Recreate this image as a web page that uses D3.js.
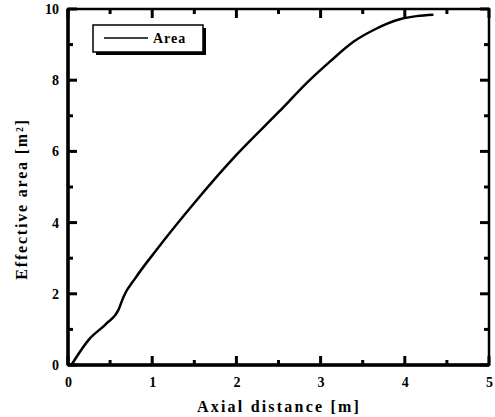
<!DOCTYPE html>
<html>
<head>
<meta charset="utf-8">
<script src="https://cdn.jsdelivr.net/npm/d3@7"></script>
<style>
  body { margin: 0; background: #fff; }
  text { font-family: "Liberation Serif", "DejaVu Serif", serif; font-weight: bold; fill: #000; }
</style>
</head>
<body>
<svg></svg>
<script>
var width = 495,
  height = 417;

// axial distance (m) and effective area (m^2)
var axialDist = [0.04, 0.25, 0.45, 0.6, 0.66, 0.8, 1.05, 1.5, 2.0, 2.5, 2.87, 3.11, 3.39, 3.63, 3.94, 4.14, 4.34];
var effArea = [0, 0.72, 1.15, 1.55, 1.92, 2.44, 3.23, 4.55, 5.9, 7.1, 8.0, 8.52, 9.08, 9.41, 9.71, 9.80, 9.84];
var xTicks = [0, 1, 2, 3, 4, 5];
var xMinor = [0.5, 1.5, 2.5, 3.5, 4.5];
var yTicks = [0, 2, 4, 6, 8, 10];
var yMinor = [1, 3, 5, 7, 9];
var seriesName = "Area";

var margin = { top: 9, right: 6, bottom: 52, left: 68 };

var svg = d3.select("svg")
  .attr("width", width)
  .attr("height", height);

var x = d3.scaleLinear().domain([0, 5]).range([margin.left, width - margin.right]);
var y = d3.scaleLinear().domain([0, 10]).range([height - margin.bottom, margin.top]);

var data = axialDist.map((d, i) => ({ x: d, y: effArea[i] }));

// tick labels from the axes
svg.append("g").attr("transform", "translate(0," + y(0) + ")")
  .call(d3.axisBottom(x).tickValues(xTicks).tickFormat(d3.format("d")).tickSize(0).tickPadding(12))
  .call(g => g.select(".domain").remove());
svg.append("g").attr("transform", "translate(" + x(0) + ",0)")
  .call(d3.axisLeft(y).tickValues(yTicks).tickFormat(d3.format("d")).tickSize(0).tickPadding(9))
  .call(g => g.select(".domain").remove());
svg.selectAll(".tick text")
  .style("font-size", "14px")
  .style("font-family", "Liberation Serif")
  .style("font-weight", "bold");

// frame
svg.append("rect")
  .attr("x", x(0)).attr("y", y(10))
  .attr("width", x(5) - x(0)).attr("height", y(0) - y(10))
  .attr("fill", "none").attr("stroke", "#000").attr("stroke-width", 2.5);
svg.append("line")
  .attr("x1", x(0)).attr("x2", x(0)).attr("y1", y(10)).attr("y2", y(0))
  .attr("stroke", "#000").attr("stroke-width", 3.5);
svg.append("line")
  .attr("x1", x(0)).attr("x2", x(5)).attr("y1", y(0)).attr("y2", y(0))
  .attr("stroke", "#000").attr("stroke-width", 3.5);

// inward tick marks on all four sides
var xt = xTicks.map(v => ({ v: v, len: 9 })).concat(xMinor.map(v => ({ v: v, len: 5 })));
var yt = yTicks.map(v => ({ v: v, len: 9 })).concat(yMinor.map(v => ({ v: v, len: 5 })));

svg.append("g").selectAll("line").data(xt).join("line")
  .attr("x1", d => x(d.v)).attr("x2", d => x(d.v))
  .attr("y1", y(0)).attr("y2", d => y(0) - d.len)
  .attr("stroke", "#000").attr("stroke-width", 3);
svg.append("g").selectAll("line").data(xt).join("line")
  .attr("x1", d => x(d.v)).attr("x2", d => x(d.v))
  .attr("y1", y(10)).attr("y2", d => y(10) + d.len)
  .attr("stroke", "#000").attr("stroke-width", 3);
svg.append("g").selectAll("line").data(yt).join("line")
  .attr("y1", d => y(d.v)).attr("y2", d => y(d.v))
  .attr("x1", x(0)).attr("x2", d => x(0) + d.len)
  .attr("stroke", "#000").attr("stroke-width", 3);
svg.append("g").selectAll("line").data(yt).join("line")
  .attr("y1", d => y(d.v)).attr("y2", d => y(d.v))
  .attr("x1", x(5)).attr("x2", d => x(5) - d.len)
  .attr("stroke", "#000").attr("stroke-width", 3);

// the curve
var line = d3.line()
  .x(d => x(d.x))
  .y(d => y(d.y))
  .curve(d3.curveMonotoneX);

svg.append("path")
  .datum(data)
  .attr("d", line)
  .attr("fill", "none")
  .attr("stroke", "#000")
  .attr("stroke-width", 2.5);

// legend with drop shadow
var lg = svg.append("g").attr("transform", "translate(93,25)");
lg.append("rect").attr("x", 3).attr("y", 3).attr("width", 110).attr("height", 27).attr("fill", "#000");
lg.append("rect").attr("x", 0).attr("y", 0).attr("width", 110).attr("height", 27)
  .attr("fill", "#fff").attr("stroke", "#000").attr("stroke-width", 1.5);
lg.append("line").attr("x1", 11).attr("x2", 55).attr("y1", 13).attr("y2", 13)
  .attr("stroke", "#000").attr("stroke-width", 1.5);
lg.append("text").attr("x", 60).attr("y", 18).style("font-size", "14px")
  .style("letter-spacing", "1px").text(seriesName);

// axis titles
svg.append("text")
  .attr("x", 279)
  .attr("y", 412)
  .attr("text-anchor", "middle")
  .style("font-size", "16px")
  .style("letter-spacing", "2.2px")
  .text("Axial distance [m]");

svg.append("text")
  .attr("transform", "translate(27,199) rotate(-90)")
  .attr("text-anchor", "middle")
  .style("font-size", "16px")
  .style("letter-spacing", "1.8px")
  .text("Effective area [m²]");
</script>
</body>
</html>
